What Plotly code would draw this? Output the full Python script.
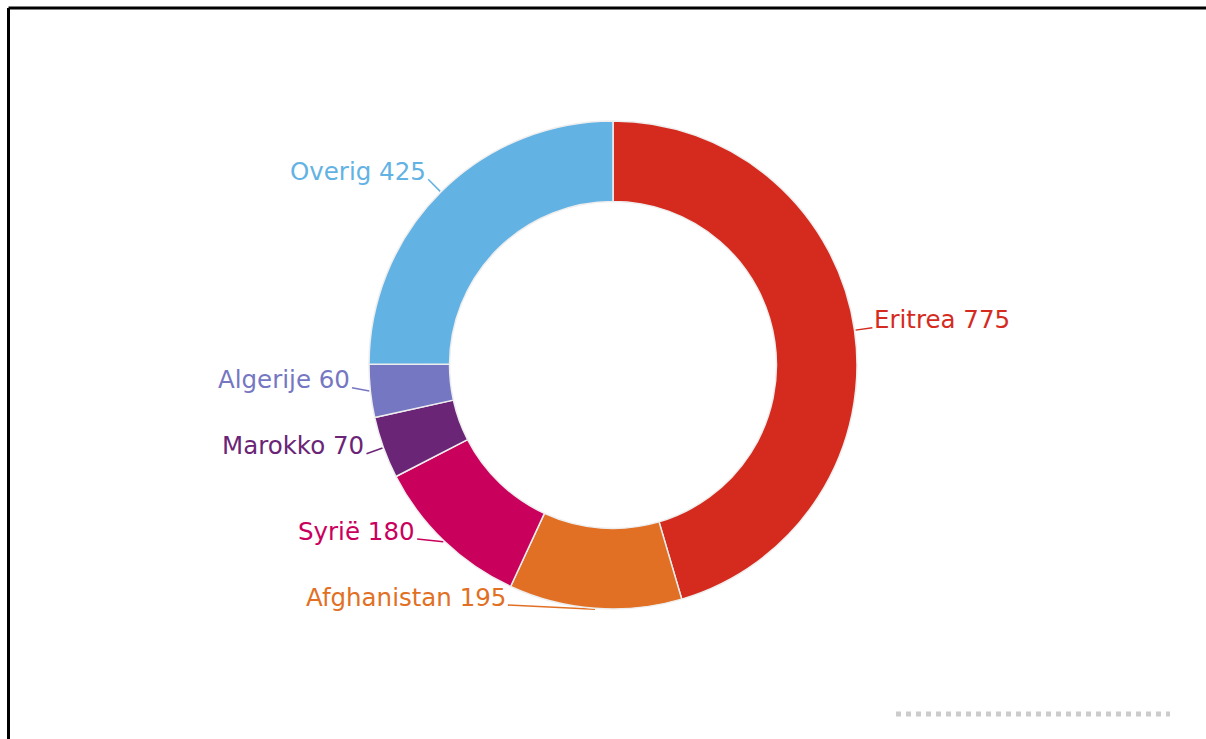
import math
import plotly.graph_objects as go

labels = ["Eritrea", "Afghanistan", "Syrië", "Marokko", "Algerije", "Overig"]
values = [775, 195, 180, 70, 60, 425]
colors = ["#d52b1e", "#e17025", "#ca005d", "#6b2577", "#7677c2", "#63b2e4"]

W, H = 1206, 739
cx, cy, r = 613, 365, 244          # pie centre / outer radius in page pixels
dist = 18                          # label distance from the pie edge
ymax = 605                         # lowest allowed label anchor
gap = 66                           # minimum vertical spacing between labels on one side

fig = go.Figure()
fig.add_trace(go.Pie(
    labels=labels,
    values=values,
    hole=0.67,
    sort=False,
    direction="clockwise",
    rotation=0,
    marker=dict(colors=colors, line=dict(color="#eeeeee", width=1.5)),
    textposition="none",
    hoverinfo="label+value",
    showlegend=False,
    domain=dict(x=[(cx - r) / W, (cx + r) / W], y=[(H - cy - r) / H, (H - cy + r) / H]),
))

# ---- outside labels with connectors (positions derived from the slice angles) ----
total = sum(values)
mids, acc = [], 0.0
for v in values:
    mids.append((acc + v / 2) / total * 2 * math.pi)
    acc += v

R = r + dist
items = []
for i, a in enumerate(mids):
    side = 1 if a < math.pi else -1
    items.append(dict(i=i, a=a, side=side, y=cy - R * math.cos(a)))

for side in (1, -1):
    grp = sorted([it for it in items if it["side"] == side], key=lambda t: -t["y"])
    prev = None
    for it in grp:
        y = min(it["y"], ymax)
        if prev is not None:
            y = min(y, prev - gap)
        it["y"] = y
        prev = y

for it in items:
    i, a, side, y = it["i"], it["a"], it["side"], it["y"]
    dy = y - cy
    x = cx + side * math.sqrt(max(R * R - dy * dy, 0.0))
    ex, ey = cx + (r + 1) * math.sin(a), cy - (r + 1) * math.cos(a)
    fig.add_trace(go.Scatter(
        x=[ex, x], y=[ey, y], mode="lines",
        line=dict(color=colors[i], width=1.5),
        hoverinfo="skip", showlegend=False, xaxis="x", yaxis="y",
    ))
    fig.add_annotation(
        x=x + side * 1, y=y - 8, xref="x", yref="y",
        text=f"{labels[i]} {values[i]}",
        showarrow=False,
        xanchor="left" if side == 1 else "right", yanchor="middle",
        borderpad=0,
        font=dict(family="DejaVu Sans", size=24.5, color=colors[i]),
    )

# frame
fig.add_shape(type="line", xref="paper", yref="paper", x0=8.5 / W, x1=1.0, y0=1 - 8 / H, y1=1 - 8 / H,
              line=dict(color="black", width=3))
fig.add_shape(type="line", xref="paper", yref="paper", x0=8.5 / W, x1=8.5 / W, y0=0, y1=1 - 8 / H,
              line=dict(color="black", width=3))
# faint footer dots
fig.add_shape(type="line", xref="paper", yref="paper", x0=896 / W, x1=1170 / W, y0=1 - 714 / H, y1=1 - 714 / H,
              line=dict(color="#cccccc", width=5, dash="dot"))

fig.update_layout(
    width=W, height=H,
    margin=dict(l=0, r=0, t=0, b=0),
    paper_bgcolor="white",
    plot_bgcolor="rgba(0,0,0,0)",
    xaxis=dict(range=[0, W], visible=False, fixedrange=True, domain=[0, 1]),
    yaxis=dict(range=[H, 0], visible=False, fixedrange=True, domain=[0, 1]),
)
fig.write_html("out.html", config={"displayModeBar": False},
               post_script="document.body.style.margin='0';document.body.style.overflow='hidden';")
